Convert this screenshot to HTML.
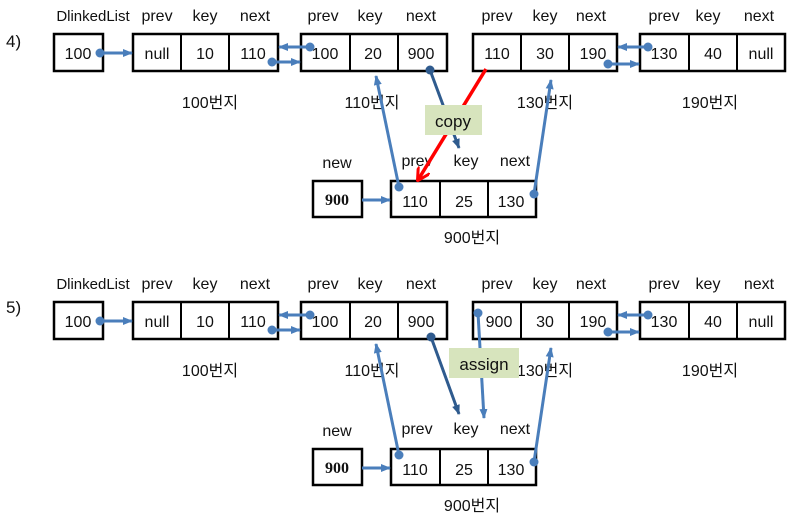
<!DOCTYPE html>
<html><head><meta charset="utf-8"><style>
html,body{margin:0;padding:0;background:#fff;}
svg{display:block;}
text{font-family:"Liberation Sans","Noto Sans CJK KR",sans-serif;font-size:16px;fill:#111;}
.c{text-anchor:middle;}
.b{fill:#fff;stroke:#000;stroke-width:2.5;}
.bl{stroke:#4a7ebb;stroke-width:3;fill:none;}
.dk{stroke:#2f5b8e;stroke-width:3;fill:none;}
</style></head><body>
<svg xmlns="http://www.w3.org/2000/svg" xmlns:xlink="http://www.w3.org/1999/xlink" width="795" height="516" viewBox="0 0 795 516">
<defs>
<marker id="ab" markerWidth="10" markerHeight="10" refX="9" refY="5" orient="auto" markerUnits="userSpaceOnUse" viewBox="0 0 10 10"><path d="M0,1 L10,5 L0,9 z" fill="#4a7ebb"/></marker>
<marker id="ad" markerWidth="10" markerHeight="10" refX="9" refY="5" orient="auto" markerUnits="userSpaceOnUse" viewBox="0 0 10 10"><path d="M0,1 L10,5 L0,9 z" fill="#2f5b8e"/></marker>
<marker id="ar" markerWidth="14" markerHeight="14" refX="12" refY="7" orient="auto" markerUnits="userSpaceOnUse" viewBox="0 0 14 14"><path d="M0,0 L13,7 L0,14" fill="none" stroke="#f00" stroke-width="3"/></marker>
</defs>
<g id="base">
<text x="93" y="21" class="c" style="font-size:15px">DlinkedList</text>
<rect class="b" x="54" y="34" width="49" height="37"/><text x="78" y="59" class="c">100</text>
<text x="157" y="21" class="c">prev</text><text x="205" y="21" class="c">key</text><text x="255" y="21" class="c">next</text>
<text x="323" y="21" class="c">prev</text><text x="370" y="21" class="c">key</text><text x="421" y="21" class="c">next</text>
<text x="497" y="21" class="c">prev</text><text x="545" y="21" class="c">key</text><text x="591" y="21" class="c">next</text>
<text x="664" y="21" class="c">prev</text><text x="708" y="21" class="c">key</text><text x="759" y="21" class="c">next</text>
<rect class="b" x="133" y="34" width="145" height="37"/><line x1="181" y1="34" x2="181" y2="71" stroke="#000" stroke-width="2"/><line x1="229" y1="34" x2="229" y2="71" stroke="#000" stroke-width="2"/>
<text x="157" y="59" class="c">null</text><text x="205" y="59" class="c">10</text><text x="253" y="59" class="c">110</text>
<rect class="b" x="301" y="34" width="146" height="37"/><line x1="350" y1="34" x2="350" y2="71" stroke="#000" stroke-width="2"/><line x1="398" y1="34" x2="398" y2="71" stroke="#000" stroke-width="2"/>
<text x="325" y="59" class="c">100</text><text x="373" y="59" class="c">20</text>
<rect class="b" x="473" y="34" width="144" height="37"/><line x1="521" y1="34" x2="521" y2="71" stroke="#000" stroke-width="2"/><line x1="569" y1="34" x2="569" y2="71" stroke="#000" stroke-width="2"/>
<text x="545" y="59" class="c">30</text><text x="593" y="59" class="c">190</text>
<rect class="b" x="640" y="34" width="145" height="37"/><line x1="689" y1="34" x2="689" y2="71" stroke="#000" stroke-width="2"/><line x1="737" y1="34" x2="737" y2="71" stroke="#000" stroke-width="2"/>
<text x="664" y="59" class="c">130</text><text x="713" y="59" class="c">40</text><text x="761" y="59" class="c">null</text>
<text x="210" y="108" class="c">100번지</text><text x="372" y="108" class="c">110번지</text><text x="545" y="108" class="c">130번지</text><text x="710" y="108" class="c">190번지</text>
<text x="337" y="168" class="c">new</text>
<text x="417" y="166" class="c">prev</text><text x="466" y="166" class="c">key</text><text x="515" y="166" class="c">next</text>
<rect class="b" x="313" y="181" width="49" height="36"/><text x="337" y="205" class="c" style="font-family:'Liberation Serif',serif;font-weight:bold;font-size:16px">900</text>
<rect class="b" x="391" y="181" width="145" height="36"/><line x1="440" y1="181" x2="440" y2="217" stroke="#000" stroke-width="2"/><line x1="488" y1="181" x2="488" y2="217" stroke="#000" stroke-width="2"/>
<text x="415" y="207" class="c">110</text><text x="464" y="207" class="c">25</text><text x="511" y="207" class="c">130</text>
<text x="472" y="243" class="c">900번지</text>
<circle cx="100" cy="53" r="4.5" fill="#4a7ebb"/><line class="bl" x1="100" y1="53" x2="132" y2="53" marker-end="url(#ab)"/>
<circle cx="272" cy="62" r="4.5" fill="#4a7ebb"/><line class="bl" x1="272" y1="62" x2="300" y2="62" marker-end="url(#ab)"/>
<circle cx="310" cy="47" r="4.5" fill="#4a7ebb"/><line class="bl" x1="310" y1="47" x2="279" y2="47" marker-end="url(#ab)"/>
<circle cx="608" cy="64" r="4.5" fill="#4a7ebb"/><line class="bl" x1="608" y1="64" x2="639" y2="64" marker-end="url(#ab)"/>
<circle cx="648" cy="47" r="4.5" fill="#4a7ebb"/><line class="bl" x1="648" y1="47" x2="618" y2="47" marker-end="url(#ab)"/>
<line class="bl" x1="362" y1="200" x2="390" y2="200" marker-end="url(#ab)"/>
<circle cx="399" cy="187" r="4.5" fill="#4a7ebb"/><line class="bl" x1="399" y1="187" x2="376" y2="76" marker-end="url(#ab)"/>
<circle cx="534" cy="194" r="4.5" fill="#4a7ebb"/><line class="bl" x1="534" y1="194" x2="551" y2="80" marker-end="url(#ab)"/>
</g>
<text x="6" y="47" style="font-size:17px">4)</text>
<text x="6" y="313" style="font-size:17px">5)</text>
<text x="421" y="59" class="c">900</text>
<text x="497" y="59" class="c">110</text>
<circle cx="430" cy="70" r="4.5" fill="#2f5b8e"/><line class="dk" x1="430" y1="70" x2="459" y2="148" marker-end="url(#ad)"/>
<line x1="486" y1="69" x2="418" y2="180" stroke="#f00" stroke-width="3.5" marker-end="url(#ar)"/>
<rect x="425" y="105" width="57" height="30" fill="#d7e4bd"/><text x="453" y="127" class="c" style="font-size:17px">copy</text>
<use href="#base" xlink:href="#base" x="0" y="268"/>
<text x="421" y="327" class="c">900</text>
<text x="499" y="327" class="c">900</text>
<circle cx="431" cy="337" r="4.5" fill="#2f5b8e"/><line class="dk" x1="431" y1="337" x2="459" y2="414" marker-end="url(#ad)"/>
<circle cx="478" cy="313" r="4.5" fill="#4a7ebb"/><line class="bl" x1="478" y1="313" x2="484" y2="418" marker-end="url(#ab)"/>
<rect x="449" y="348" width="70" height="30" fill="#d7e4bd"/><text x="484" y="370" class="c" style="font-size:17px">assign</text>
</svg>
</body></html>
